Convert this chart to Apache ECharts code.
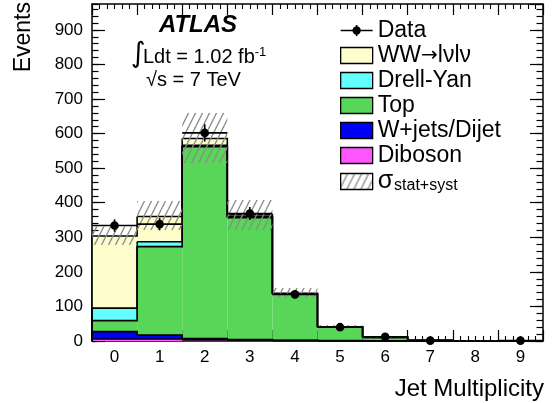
<!DOCTYPE html>
<html><head><meta charset="utf-8">
<script src="https://cdn.jsdelivr.net/npm/echarts@6/dist/echarts.min.js"></script>
<style>html,body{margin:0;padding:0;background:#fff}#c{width:553px;height:403px}</style>
</head><body><div id="c"></div>
<script>
// ---- data ----
const jetBins   = ['0','1','2','3','4','5','6','7','8','9'];
const diboson   = [6, 6, 3, 2, 1, 0.5, 0.2, 0, 0, 0];
const wjets     = [21, 11, 4, 2, 1, 0.5, 0.2, 0, 0, 0];
const topPair   = [32, 256, 555, 353, 134, 39, 10, 1.6, 0.5, 0.2];
const drellYan  = [36, 14, 4, 2, 0.5, 0.5, 0.2, 0.1, 0, 0];
const wwSignal  = [209, 73, 20, 6, 1.5, 0.5, 0.4, 0.3, 0.1, 0];
const dataCounts = [334, 338, 602, 369, 135, 40, 12, 1, null, 1];
const dataErrors = [18, 18, 25, 19, 12, 6, 3.5, 1, 0, 1];
const bandLow   = [278, 321, 515, 321, 125, 36, 9, 1, 0, 0];
const bandHigh  = [331, 405, 660, 408, 153, 46, 14, 3, 1, 0.5];
const yMax = 975;

const FONT = '"Liberation Sans", Arial, Helvetica, sans-serif';
const layerNames  = ['Diboson', 'W+jets/Dijet', 'Top', 'Drell-Yan', 'WW→lνlν'];
const layerValues = [diboson, wjets, topPair, drellYan, wwSignal];
const layerColors = ['#ff55ff', '#0000f5', '#58d658', '#62fdfd', '#fefdcc'];

// cumulative stack tops for outline drawing
const cumul = [];
let run = jetBins.map(() => 0);
layerValues.forEach(l => { run = run.map((v, i) => v + l[i]); cumul.push(run.slice()); });

// hatch pattern
function makeHatch() {
  const c = document.createElement('canvas');
  c.width = 7; c.height = 14;
  const g = c.getContext('2d');
  g.strokeStyle = '#8c8c8c'; g.lineWidth = 1.4;
  [-7, 0, 7].forEach(o => { g.beginPath(); g.moveTo(o, 14); g.lineTo(o + 7, 0); g.stroke(); });
  return c;
}
const hatch = { image: makeHatch(), repeat: 'repeat' };

const chart = echarts.init(document.getElementById('c'), null, { renderer: 'canvas' });

const series = [];
layerNames.forEach((n, k) => {
  series.push({
    name: n, type: 'bar', stack: 'mc', xAxisIndex: 0, yAxisIndex: 0,
    barWidth: '100%', barGap: '-100%', z: 2, silent: true,
    itemStyle: { color: layerColors[k], borderWidth: 0 },
    data: layerValues[k]
  });
});
series.push({
  name: 'outline', type: 'custom', xAxisIndex: 0, yAxisIndex: 0, z: 3, silent: true,
  data: jetBins.map((b, i) => [i]),
  renderItem: function (params, api) {
    const i = params.dataIndex;
    const w = api.size([1, 0])[0];
    const children = cumul.map(c => {
      const p = api.coord([i, c[i]]);
      const next = i < c.length - 1 ? c[i + 1] : 0;
      const pn = api.coord([i, next]);
      const pts = [];
      if (i === 0) { const p0 = api.coord([i, 0]); pts.push([p[0] - w / 2, p0[1]]); }
      pts.push([p[0] - w / 2, p[1]], [p[0] + w / 2, p[1]], [p[0] + w / 2, pn[1]]);
      return { type: 'polyline', shape: { points: pts }, style: { stroke: '#000', lineWidth: 1.6, fill: null } };
    });
    return { type: 'group', children: children };
  }
});
series.push({
  name: 'bandBase', type: 'bar', stack: 'band', xAxisIndex: 0, yAxisIndex: 0,
  barWidth: '100%', barGap: '-100%', z: 4, silent: true,
  itemStyle: { color: 'rgba(0,0,0,0)' }, data: bandLow
});
series.push({
  name: 'sigma', type: 'bar', stack: 'band', xAxisIndex: 0, yAxisIndex: 0,
  barWidth: '100%', barGap: '-100%', z: 4, silent: true,
  itemStyle: { color: hatch }, data: bandHigh.map((h, i) => h - bandLow[i])
});
series.push({
  name: 'Data', type: 'custom', xAxisIndex: 0, yAxisIndex: 0, z: 6, clip: false, silent: true,
  itemStyle: { color: '#000' },
  encode: { x: 0, y: 1 },
  data: dataCounts.map((v, i) => [i, v, dataErrors[i]]).filter(d => d[1] !== null),
  renderItem: function (params, api) {
    const x = api.value(0), y = api.value(1), e = api.value(2);
    const c = api.coord([x, y]);
    const w = api.size([1, 0])[0];
    const lo = api.coord([x, Math.max(0, y - e)]), hi = api.coord([x, y + e]);
    return { type: 'group', children: [
      { type: 'line', shape: { x1: c[0] - w / 2, y1: c[1], x2: c[0] + w / 2, y2: c[1] }, style: { stroke: '#000', lineWidth: 1.6 } },
      { type: 'line', shape: { x1: c[0], y1: lo[1], x2: c[0], y2: hi[1] }, style: { stroke: '#000', lineWidth: 1.6 } },
      { type: 'circle', shape: { cx: c[0], cy: c[1], r: 4.3 }, style: { fill: '#000' } }
    ] };
  }
});

const black = { color: '#000', width: 1.5 };
function tickAxisX(pos) {
  return { type: 'value', position: pos, min: -0.5, max: 9.5, interval: 1,
    axisLine: { show: true, onZero: false, lineStyle: black },
    axisTick: { show: true, inside: true, length: 11, lineStyle: { color: '#000', width: 1.2 } },
    minorTick: { show: true, splitNumber: 6, length: 5, lineStyle: { color: '#000', width: 1.1 } },
    axisLabel: { show: false }, splitLine: { show: false }, minorSplitLine: { show: false } };
}
function tickAxisY(pos, interval, len, line, labels) {
  return { type: 'value', position: pos, min: 0, max: yMax, interval: interval,
    axisLine: { show: line, onZero: false, lineStyle: black },
    axisTick: { show: true, inside: true, length: len, lineStyle: { color: '#000', width: 1.2 } },
    axisLabel: labels ? { show: true, fontSize: 17, color: '#000', fontFamily: FONT, margin: 9, showMaxLabel: false } : { show: false },
    splitLine: { show: false } };
}

const legendRich = {
  n: { fontSize: 23, fontFamily: FONT, color: '#000' },
  a: { fontSize: 20, fontFamily: '"DejaVu Sans", sans-serif', color: '#000' },
  s: { fontSize: 25, fontFamily: FONT, color: '#000' },
  sub: { fontSize: 16, fontFamily: FONT, color: '#000', padding: [9, 0, 0, 1] }
};

const option = {
  animation: false,
  backgroundColor: '#fff',
  grid: { left: 92, right: 10, top: 4, bottom: 62, outerBoundsMode: 'none', containLabel: false },
  xAxis: [
    { type: 'category', data: jetBins, position: 'bottom', boundaryGap: true,
      axisLine: { show: false }, axisTick: { show: false }, splitLine: { show: false },
      axisLabel: { fontSize: 17, color: '#000', fontFamily: FONT, margin: 8 } },
    tickAxisX('bottom'),
    tickAxisX('top')
  ],
  yAxis: [
    tickAxisY('left', 100, 13, true, true),
    tickAxisY('left', 20, 6.5, false, false),
    tickAxisY('right', 100, 13, true, false),
    tickAxisY('right', 20, 6.5, false, false)
  ],
  legend: {
    orient: 'vertical', left: 340, top: 19, padding: 0, itemWidth: 32, itemHeight: 16, itemGap: 2,
    selectedMode: false,
    itemStyle: { borderColor: '#000', borderWidth: 1.3 },
    textStyle: { fontSize: 23, color: '#000', fontFamily: FONT, rich: legendRich },
    formatter: function (name) {
      if (name === 'sigma') return '{s|σ}{sub|stat+syst}';
      if (name === 'WW→lνlν') return '{n|WW}{a|→}{n|lνlν}';
      return '{n|' + name + '}';
    },
    data: [
      { name: 'Data', icon: 'path://M0,7.2h32v1.6h-32z M16,3.8a4.2,4.2 0 1,1 0,8.4a4.2,4.2 0 1,1 0,-8.4z M15.2,2.5h1.6v11h-1.6z', itemStyle: { borderWidth: 0, color: '#000' } },
      { name: 'WW→lνlν', icon: 'rect' },
      { name: 'Drell-Yan', icon: 'rect' },
      { name: 'Top', icon: 'rect' },
      { name: 'W+jets/Dijet', icon: 'rect' },
      { name: 'Diboson', icon: 'rect' },
      { name: 'sigma', icon: 'rect' }
    ]
  },
  graphic: [
    { type: 'text', x: 198, y: 25, z: 10, style: { text: 'ATLAS', font: 'italic bold 24px ' + FONT, fill: '#000', align: 'center', verticalAlign: 'middle' } },
    { type: 'text', x: 131, y: 55, z: 10, style: { text: '∫', font: '28px "DejaVu Sans", sans-serif', fill: '#000', align: 'left', verticalAlign: 'middle' } },
    { type: 'text', x: 143, y: 57, z: 10, style: { text: 'Ldt = 1.02 fb{sup|-1}', font: '20px ' + FONT, fill: '#000', align: 'left', verticalAlign: 'middle',
        rich: { sup: { fontSize: 13, fontFamily: FONT, padding: [0, 0, 10, 0], fill: '#000' } } } },
    { type: 'text', x: 146, y: 80, z: 10, style: { text: '√s = 7 TeV', font: '20px ' + FONT, fill: '#000', align: 'left', verticalAlign: 'middle' } },
    { type: 'text', x: 24, y: 2, rotation: Math.PI / 2, z: 10, style: { text: 'Events', font: '23px ' + FONT, fill: '#000', align: 'right', verticalAlign: 'middle' } },
    { type: 'text', x: 544, y: 389, z: 10, style: { text: 'Jet Multiplicity', font: '24px ' + FONT, fill: '#000', align: 'right', verticalAlign: 'middle' } }
  ],
  series: series
};
chart.setOption(option);
</script>
</body></html>
